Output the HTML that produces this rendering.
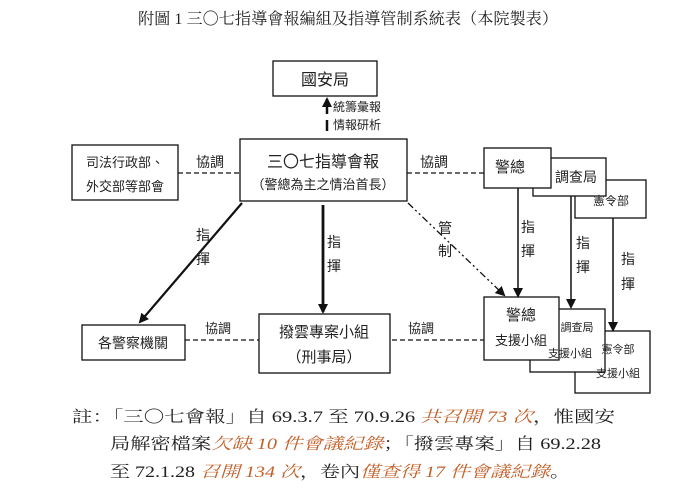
<!DOCTYPE html>
<html><head><meta charset="utf-8"><style>
html,body{margin:0;padding:0;background:#fff;width:696px;height:492px;overflow:hidden}
svg{display:block}
.s{font-family:"Liberation Sans","Noto Sans CJK TC",sans-serif;fill:#222}
.r{font-family:"Liberation Serif","Noto Serif CJK SC",serif;fill:#222}
.o{fill:#c0602a;font-style:italic}
</style></head><body>
<svg width="696" height="492" viewBox="0 0 696 492" xmlns="http://www.w3.org/2000/svg">
<defs>
<marker id="a" markerWidth="10" markerHeight="10" refX="8" refY="5" orient="auto" markerUnits="userSpaceOnUse"><path d="M0,0 L10,5 L0,10 z" fill="#111"/></marker>
</defs>
<text class="r" x="348" y="24" font-size="16" text-anchor="middle" textLength="420" lengthAdjust="spacingAndGlyphs">附圖 1 三〇七指導會報編組及指導管制系統表（本院製表）</text>
<g fill="none" stroke="#111" stroke-width="1.3">
<rect x="273" y="61" width="104" height="35"/>
<rect x="240" y="139" width="167" height="62"/>
<rect x="72" y="145" width="106" height="55"/>
<rect x="575" y="180" width="71" height="38" fill="#fff"/>
<rect x="533" y="158" width="73" height="38" fill="#fff"/>
<rect x="484" y="148" width="67" height="40" fill="#fff"/>
<rect x="575" y="331" width="75" height="62" fill="#fff"/>
<rect x="530" y="309" width="75" height="63" fill="#fff"/>
<rect x="484" y="297" width="75" height="63" fill="#fff"/>
<rect x="82" y="325" width="103" height="35"/>
<rect x="259" y="314" width="131" height="59"/>
</g>
<g stroke="#111" stroke-width="1.3" stroke-dasharray="5,3" fill="none">
<line x1="178" y1="173" x2="240" y2="173"/>
<line x1="407" y1="173" x2="484" y2="173"/>
<line x1="185" y1="340" x2="259" y2="340"/>
<line x1="392" y1="340" x2="484" y2="340"/>
</g>
<line x1="408" y1="203" x2="504" y2="295" stroke="#111" stroke-width="1.3" stroke-dasharray="7,3,2,3,2,3" marker-end="url(#a)"/>
<g stroke="#111" fill="none">
<line x1="327" y1="114" x2="327" y2="99" stroke-width="2.5" marker-end="url(#a)"/>
<line x1="327" y1="120" x2="327" y2="131" stroke-width="2.5"/>
<line x1="242" y1="203" x2="140" y2="322" stroke-width="2.2" marker-end="url(#a)"/>
<line x1="323" y1="205" x2="323" y2="312" stroke-width="2.8" marker-end="url(#a)"/>
<line x1="518" y1="188" x2="518" y2="296" stroke-width="1.5" marker-end="url(#a)"/>
<line x1="571" y1="196" x2="571" y2="307" stroke-width="1.5" marker-end="url(#a)"/>
<line x1="613" y1="218" x2="613" y2="330" stroke-width="1.5" marker-end="url(#a)"/>
</g>
<g class="s" font-size="14">
<text x="325" y="85" font-size="16" text-anchor="middle">國安局</text>
<text x="333" y="111" font-size="12">統籌彙報</text>
<text x="333" y="129" font-size="12">情報研析</text>
<text x="323" y="167" font-size="16" text-anchor="middle">三〇七指導會報</text>
<text x="323" y="189" font-size="13" text-anchor="middle">（警總為主之情治首長）</text>
<text x="125" y="167" font-size="13" text-anchor="middle">司法行政部、</text>
<text x="125" y="191" font-size="13" text-anchor="middle">外交部等部會</text>
<text x="196" y="167">協調</text>
<text x="420" y="167">協調</text>
<text x="495" y="172" font-size="15">警總</text>
<text x="555" y="182">調查局</text>
<text x="593" y="205" font-size="12">憲令部</text>
<text x="521" y="232">指</text><text x="521" y="256">揮</text>
<text x="576" y="248">指</text><text x="576" y="272">揮</text>
<text x="621" y="264">指</text><text x="621" y="289">揮</text>
<text x="438" y="233">管</text><text x="438" y="256">制</text>
<text x="196" y="240">指</text><text x="196" y="264">揮</text>
<text x="327" y="247">指</text><text x="327" y="271">揮</text>
<text x="521" y="320" font-size="15" text-anchor="middle">警總</text>
<text x="521" y="345" font-size="13" text-anchor="middle">支援小組</text>
<text x="577" y="331" font-size="11" text-anchor="middle">調查局</text>
<text x="570" y="357" font-size="11" text-anchor="middle">支援小組</text>
<text x="618" y="353" font-size="11" text-anchor="middle">憲令部</text>
<text x="618" y="377" font-size="11" text-anchor="middle">支援小組</text>
<text x="133" y="348" font-size="14" text-anchor="middle">各警察機關</text>
<text x="205" y="333" font-size="13">協調</text>
<text x="408" y="333" font-size="13">協調</text>
<text x="324" y="337" font-size="15" text-anchor="middle">撥雲專案小組</text>
<text x="324" y="362" font-size="15" text-anchor="middle">（刑事局）</text>
</g>
<g class="r" font-size="16">
<text x="72" y="422" textLength="543" lengthAdjust="spacingAndGlyphs">註：「三〇七會報」自 69.3.7 至 70.9.26 <tspan class="o">共召開 73 次</tspan>，惟國安</text>
<text x="110" y="449" textLength="491" lengthAdjust="spacingAndGlyphs">局解密檔案<tspan class="o">欠缺 10 件會議紀錄</tspan>；「撥雲專案」自 69.2.28</text>
<text x="110" y="477" textLength="460" lengthAdjust="spacingAndGlyphs">至 72.1.28 <tspan class="o">召開 134 次</tspan>，卷內<tspan class="o">僅查得 17 件會議紀錄</tspan>。</text>
</g>
</svg>
</body></html>
